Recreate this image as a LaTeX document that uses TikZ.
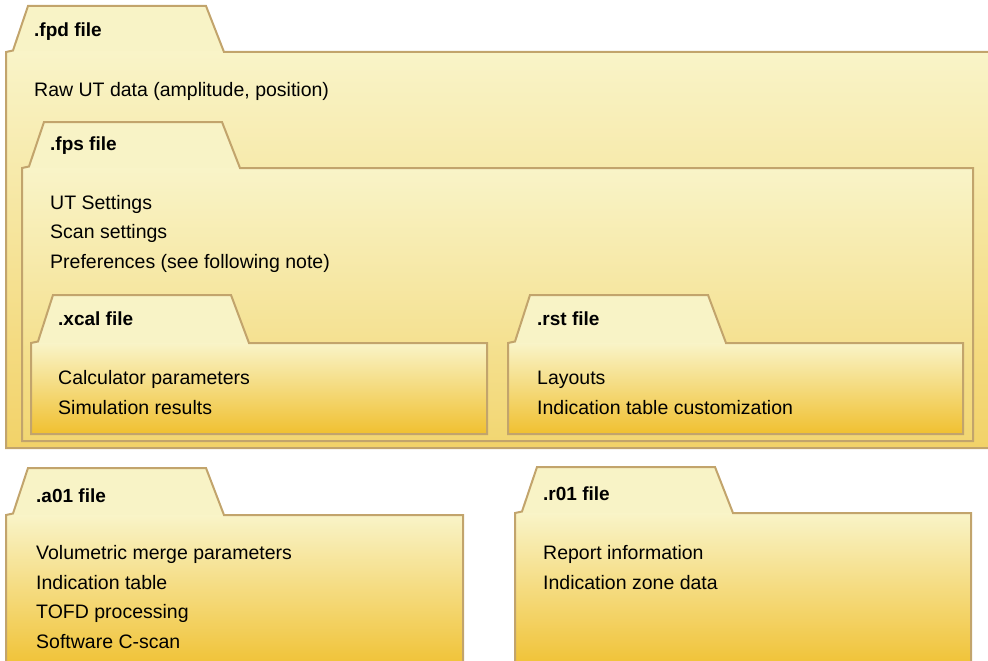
\documentclass[tikz,border=0pt]{standalone}
\usepackage{fontspec}
\setmainfont{Liberation Sans}
\usetikzlibrary{positioning, calc}

\definecolor{foldline}{HTML}{C2A46C}
\definecolor{tabcream}{HTML}{F8F3C6}
\definecolor{paletop}{HTML}{F9F4C8}
\definecolor{outerbot}{HTML}{F2D268}
\definecolor{midbot}{HTML}{F2D672}
\definecolor{goldbot}{HTML}{F0C030}

% #1 name, #2 left, #3 tab top, #4 body top, #5 right, #6 bottom, #7 bottom colour
\newcommand{\filefolder}[7]{%
  \fill[tabcream] (#2,#4) -- (#2+7,#4-1.5) -- (#2+22,#3) -- (#2+200,#3) -- (#2+218,#4) -- cycle;
  \shade[top color=paletop, bottom color=#7] (#2,#4) rectangle (#5,#6);
  \draw[folder] (#2,#4) -- (#2+7,#4-1.5) -- (#2+22,#3) -- (#2+200,#3) -- (#2+218,#4)
    -- (#5,#4) -- (#5,#6) -- (#2,#6) -- cycle;
  \coordinate (#1) at (#2,#4);
}

\begin{document}
\begin{tikzpicture}[
    x=1pt, y=-1pt,
    folder/.style={draw=foldline, line width=2pt, line join=miter},
    title/.style={anchor=base west, inner sep=0pt, font=\fontsize{19}{29.5}\selectfont\bfseries},
    info/.style={anchor=base west, inner sep=0pt, align=left, font=\fontsize{19.5}{29.5}\selectfont}
  ]
  \useasboundingbox (0,0) rectangle (988,661);
  \clip (0,0) rectangle (988,661);

  \filefolder{fpd}{6}{6}{52}{1000}{448}{outerbot}
  \filefolder{fps}{22}{122}{168}{973}{441}{midbot}
  \filefolder{xcal}{31}{295}{343}{487}{434}{goldbot}
  \filefolder{rst}{508}{295}{343}{963}{434}{goldbot}
  \filefolder{aone}{6}{468}{515}{463}{672}{goldbot}
  \filefolder{rone}{515}{467}{513}{971}{672}{goldbot}

  % base of a multi-line node = baseline of its last line
  \node[title] (fpdt)  at (34,37)   {.fpd file};
  \node[info]  (fpdi)  at (34,96)   {Raw UT data (amplitude, position)};
  \node[title] (fpst)  at (50,150)  {.fps file};
  \node[info]  (fpsi)  at (50,268)  {UT Settings\\Scan settings\\Preferences (see following note)};
  \node[title] (xcalt) at (58,325)  {.xcal file};
  \node[info]  (xcali) at (58,414)  {Calculator parameters\\Simulation results};
  \node[title] (rstt)  at (537,325) {.rst file};
  \node[info]  (rsti)  at (537,414) {Layouts\\Indication table customization};
  \node[title] (aonet) at (36,502)  {.a01 file};
  \node[info]  (aonei) at (36,648)  {Volumetric merge parameters\\Indication table\\TOFD processing\\Software C-scan};
  \node[title] (ronet) at (543,500) {.r01 file};
  \node[info]  (ronei) at (543,589) {Report information\\Indication zone data};
\end{tikzpicture}
\end{document}
